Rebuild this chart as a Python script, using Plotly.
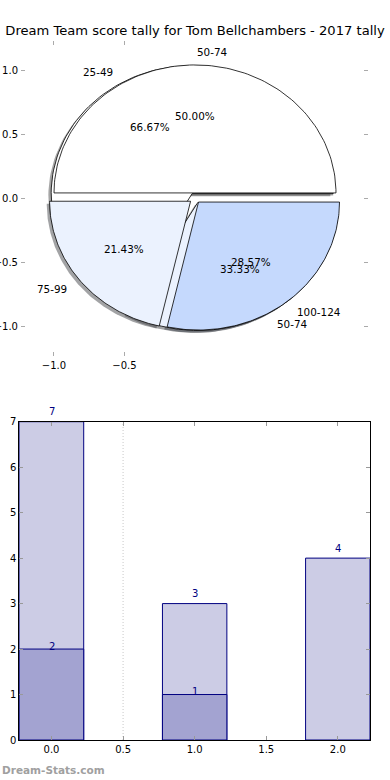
import numpy as np
import plotly.graph_objects as go

# ---------------- data ----------------
title_text = "Dream Team score tally for Tom Bellchambers - 2017 tally"
pie_a_labels = ["25-49", "50-74"]
pie_a_values = [2, 1]
pie_b_labels = ["50-74", "75-99", "100-124"]
pie_b_values = [7, 3, 4]
wedge_colors = ["#ffffff", "#ebf2fe", "#c5d9fd"]

pie_xticks = [-1.0, -0.5]
pie_yticks = [1.0, 0.5, 0.0, -0.5, -1.0]

bar_x_light = [0, 1, 2]
bar_light = [7, 3, 4]
bar_x_dark = [0, 1]
bar_dark = [2, 1]
bar_xticks = [0.0, 0.5, 1.0, 1.5, 2.0]
bar_yticks = [0, 1, 2, 3, 4, 5, 6, 7]
ref_line_x = 0.5
watermark = "Dream-Stats.com"

# ---------------- layout helpers ----------------
W, H = 390, 780
EXPLODE = 0.04
LABEL_DIST = 1.1
PCT_DIST = 0.6
SHADOW = (-0.02, -0.02)


def px_dom_x(a, b):
    return [a / W, b / W]


def px_dom_y(top, bottom):
    return [1 - bottom / H, 1 - top / H]


def hex_rgb(h):
    h = h.lstrip("#")
    return tuple(int(h[i:i + 2], 16) for i in (0, 2, 4))


def wedge_geometry(values):
    total = float(sum(values))
    start = 0.0
    out = []
    for v in values:
        t1 = start
        t2 = start + 360.0 * v / total
        mid = np.deg2rad((t1 + t2) / 2)
        cx = EXPLODE * np.cos(mid)
        cy = EXPLODE * np.sin(mid)
        th = np.deg2rad(np.linspace(t1, t2, 120))
        xs = np.concatenate([[cx], cx + np.cos(th), [cx]])
        ys = np.concatenate([[cy], cy + np.sin(th), [cy]])
        out.append(dict(xs=xs, ys=ys, cx=cx, cy=cy, mid=mid, frac=v / total))
        start = t2
    return out


geo_a = wedge_geometry(pie_a_values)
geo_b = wedge_geometry(pie_b_values)

fig = go.Figure()

# shadows (below all wedges)
for geo in (geo_a, geo_b):
    for i, g in enumerate(geo):
        r, gg, b = hex_rgb(wedge_colors[i])
        fig.add_trace(go.Scatter(
            x=g["xs"] + SHADOW[0], y=g["ys"] + SHADOW[1], mode="lines",
            fill="toself", fillcolor=f"rgba({int(r*0.3)},{int(gg*0.3)},{int(b*0.3)},0.5)",
            line=dict(width=0), hoverinfo="skip", showlegend=False,
            xaxis="x", yaxis="y"))

# wedges
for geo in (geo_a, geo_b):
    for i, g in enumerate(geo):
        fig.add_trace(go.Scatter(
            x=g["xs"], y=g["ys"], mode="lines", fill="toself",
            fillcolor=wedge_colors[i], line=dict(color="black", width=0.8),
            hoverinfo="skip", showlegend=False, xaxis="x", yaxis="y"))

annotations = []
for geo, labels in ((geo_a, pie_a_labels), (geo_b, pie_b_labels)):
    for g, lab in zip(geo, labels):
        xt = g["cx"] + LABEL_DIST * np.cos(g["mid"])
        yt = g["cy"] + LABEL_DIST * np.sin(g["mid"])
        annotations.append(dict(
            x=xt, y=yt, xref="x", yref="y", text=lab, showarrow=False,
            xanchor="left" if xt > 0 else "right", yanchor="middle",
            font=dict(family="DejaVu Sans", size=10.4, color="black")))
        xp = g["cx"] + PCT_DIST * np.cos(g["mid"])
        yp = g["cy"] + PCT_DIST * np.sin(g["mid"])
        annotations.append(dict(
            x=xp, y=yp, xref="x", yref="y", text=f"{g['frac']*100:.2f}%",
            showarrow=False, xanchor="center", yanchor="middle",
            font=dict(family="DejaVu Sans", size=10.4, color="black")))

# bars
NAVY = "#000080"
fig.add_trace(go.Bar(x=bar_x_light, y=bar_light, width=0.45,
                     marker=dict(color="#cccce5", line=dict(color=NAVY, width=1)),
                     xaxis="x2", yaxis="y2", showlegend=False, hoverinfo="skip"))
fig.add_trace(go.Bar(x=bar_x_dark, y=bar_dark, width=0.45,
                     marker=dict(color="#a3a3d1", line=dict(color=NAVY, width=1)),
                     xaxis="x2", yaxis="y2", showlegend=False, hoverinfo="skip"))

for xs, vs, shift in ((bar_x_light, bar_light, 10), (bar_x_dark, bar_dark, 3)):
    for xv, v in zip(xs, vs):
        annotations.append(dict(
            x=xv, y=v, xref="x2", yref="y2", text=str(v), showarrow=False,
            yshift=shift, xanchor="center", yanchor="middle",
            font=dict(family="DejaVu Sans", size=10, color=NAVY)))

annotations.append(dict(
    x=0, y=10 / H, xref="paper", yref="paper", text=watermark, showarrow=False,
    xanchor="left", yanchor="middle",
    font=dict(family="DejaVu Sans", size=10.5, color="#a0a0a0", weight="bold")))

tickfont = dict(family="DejaVu Sans", size=10, color="black")

common = dict(ticks="inside", ticklen=4, showgrid=False, zeroline=False,
              tickfont=tickfont, fixedrange=True, automargin=False, mirror="ticks",
              showline=True)

fig.update_layout(
    width=W, height=H, margin=dict(l=0, r=0, t=0, b=0, autoexpand=False),
    paper_bgcolor="white", plot_bgcolor="white",
    barmode="overlay",
    title=dict(text=title_text, x=0.5, xanchor="center", xref="paper",
               y=1 - 30 / H, yanchor="middle", yref="paper",
               font=dict(family="DejaVu Sans", size=13.1, color="black"),
               automargin=False),
    xaxis=dict(domain=px_dom_x(21, 368), range=[-1.234, 1.227],
               tickvals=pie_xticks, tickformat=".1f", tickcolor="#aaaaaa",
               linecolor="rgba(0,0,0,0)", **common),
    yaxis=dict(domain=px_dom_y(41, 356), range=[-1.234, 1.227],
               tickvals=pie_yticks, tickformat=".1f", tickcolor="#aaaaaa",
               linecolor="rgba(0,0,0,0)", **common),
    xaxis2=dict(domain=px_dom_x(19.3, 370), range=[-0.225, 2.225], anchor="y2",
                tickvals=bar_xticks, tickformat=".1f", tickcolor="#999999",
                linecolor="black", linewidth=1, **common),
    yaxis2=dict(domain=px_dom_y(421.7, 740), range=[0, 7], anchor="x2",
                tickvals=bar_yticks, tickcolor="#999999",
                linecolor="black", linewidth=1, **common),
    annotations=annotations,
    shapes=[dict(type="line", xref="x2", yref="y2 domain", x0=ref_line_x, x1=ref_line_x,
                 y0=0, y1=1, line=dict(color="#c8c8c8", width=1, dash="1px,2px"),
                 layer="below")],
)

fig.write_html("out.html", config={"displayModeBar": False},
               post_script="document.body.style.margin='0';document.body.style.padding='0';")
